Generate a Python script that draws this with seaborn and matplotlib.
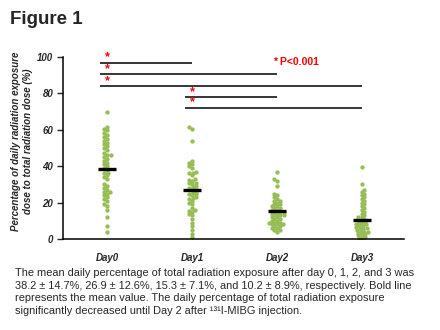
import numpy as np
import pandas as pd
import matplotlib
matplotlib.use("Agg")
import matplotlib.pyplot as plt
import seaborn as sns

# ---------------- data ----------------
days = ["Day0", "Day1", "Day2", "Day3"]
day0 = [69.6, 61.5, 60.5, 59.8, 58, 57, 56, 55, 54, 53, 52, 51, 50, 49, 47, 46, 46,
        45, 44, 43, 42, 41, 40, 39, 38, 36.5, 36, 35, 34, 33, 30, 29, 28, 27, 26, 26,
        25, 24, 23, 22, 21, 19, 18, 16, 12, 7, 4]
day1 = [61.5, 60.5, 54, 43, 42, 41, 40, 39, 37, 36.5, 36, 35, 33, 32.5, 32, 31, 30.5,
        30, 29, 28.5, 28, 27.5, 27, 26, 25.5, 25, 24.5, 24, 23, 22.5, 22, 21, 20, 19,
        17, 16, 15.5, 15, 14, 13, 11, 9, 7, 5, 3, 1]
day2 = [37, 33, 32, 29, 25, 24, 23, 22, 21, 21, 20, 19, 19, 18, 18, 17, 17, 16, 16,
        15, 15, 15, 14, 14, 13, 13, 13, 12, 12, 11, 11, 10, 10, 9, 9, 8, 8, 7, 6, 5,
        4, 5, 6, 7, 8, 9]
day3 = [39.5, 30, 27, 26, 25, 24, 23, 22, 21, 20, 19, 18, 17, 16, 15, 14, 13, 12, 11,
        10, 9.5, 9, 8.5, 8, 7.5, 7, 6.5, 6, 5.5, 5, 4.5, 4, 3.5, 3, 2.5, 2, 1.5, 1,
        0.5, 0, 12, 8, 6, 4]
means = [38.2, 26.9, 15.3, 10.2]

# significance comparisons (from, to, line level)
sig_from = [0, 0, 0, 1, 1]
sig_to = [1, 2, 3, 2, 3]
sig_level = [96.9, 90.5, 84.0, 78.0, 72.1]

yticks = [0, 20, 40, 60, 80, 100]
caption = ("The mean daily percentage of total radiation exposure after day 0, 1, 2, and 3 was\n"
           "38.2 \u00b1 14.7%, 26.9 \u00b1 12.6%, 15.3 \u00b1 7.1%, and 10.2 \u00b1 8.9%, respectively. Bold line\n"
           "represents the mean value. The daily percentage of total radiation exposure\n"
           "significantly decreased until Day 2 after \u00b9\u00b3\u00b9I-MIBG injection.")

df = pd.DataFrame({
    "day": sum([[d] * len(v) for d, v in zip(days, [day0, day1, day2, day3])], []),
    "value": day0 + day1 + day2 + day3,
})

# ---------------- style ----------------
sns.set_style("ticks")
plt.rcParams["font.family"] = ["Liberation Sans", "DejaVu Sans"]

green = "#97BD55"
fig = plt.figure(figsize=(4.4, 3.3), dpi=100)
ax = fig.add_axes([63 / 440, 1 - 239 / 330, (404 - 63) / 440, (239 - 57) / 330])

sns.swarmplot(data=df, x="day", y="value", order=days, color=green, size=2.6,
              linewidth=0, ax=ax, zorder=2)
# lay out the swarm with compact spacing, then enlarge the dots slightly
fig.canvas.draw()
for coll in ax.collections:
    if "draw" in coll.__dict__:
        del coll.draw
    coll.set_sizes([3.1 ** 2])

# mean bars
for i, m in enumerate(means):
    ax.hlines(m, i - 0.105, i + 0.105, color="black", lw=2.4, zorder=3)

# significance lines and stars
for a, b, lv in zip(sig_from, sig_to, sig_level):
    ax.hlines(lv, a - 0.08, b, color="black", lw=1.1, zorder=3, clip_on=False)
    ax.text(a, lv + 1.2, "*", color="red", fontsize=9, fontweight="bold",
            ha="center", va="baseline", zorder=4, clip_on=False)

ax.text(1.95, 97.3, "* P<0.001", color="red", fontsize=7.5, fontweight="bold",
        ha="left", va="center")

ax.set_xlim(-0.52, 3.49)
ax.set_ylim(0, 100)
ax.set_yticks(yticks)
ax.set_yticklabels([str(t) for t in yticks], fontsize=7, fontweight="bold", style="italic")
ax.set_xticks(range(len(days)))
ax.set_xticklabels(days, fontsize=7, fontweight="bold", style="italic")
ax.tick_params(axis="x", length=0, pad=10)
ax.tick_params(axis="y", length=4, width=1, pad=3, direction="out")
ax.set_xlabel("")
ax.set_ylabel("Percentage of daily radiation exposure\ndose to total radiation dose (%)",
              fontsize=7, fontweight="bold", style="italic", linespacing=1.3)
ax.yaxis.set_label_coords(-0.088, 0.535)
for s in ["top", "right"]:
    ax.spines[s].set_visible(False)
for s in ["left", "bottom"]:
    ax.spines[s].set_linewidth(1.1)
    ax.spines[s].set_color("black")

fig.text(10 / 440, 1 - 19 / 330, "Figure 1", fontsize=13.5, fontweight="bold",
         ha="left", va="center")
fig.text(15 / 440, 1 - 268 / 330, caption, fontsize=7.9, ha="left", va="top",
         linespacing=1.33)

fig.savefig("out.png", dpi=100)
